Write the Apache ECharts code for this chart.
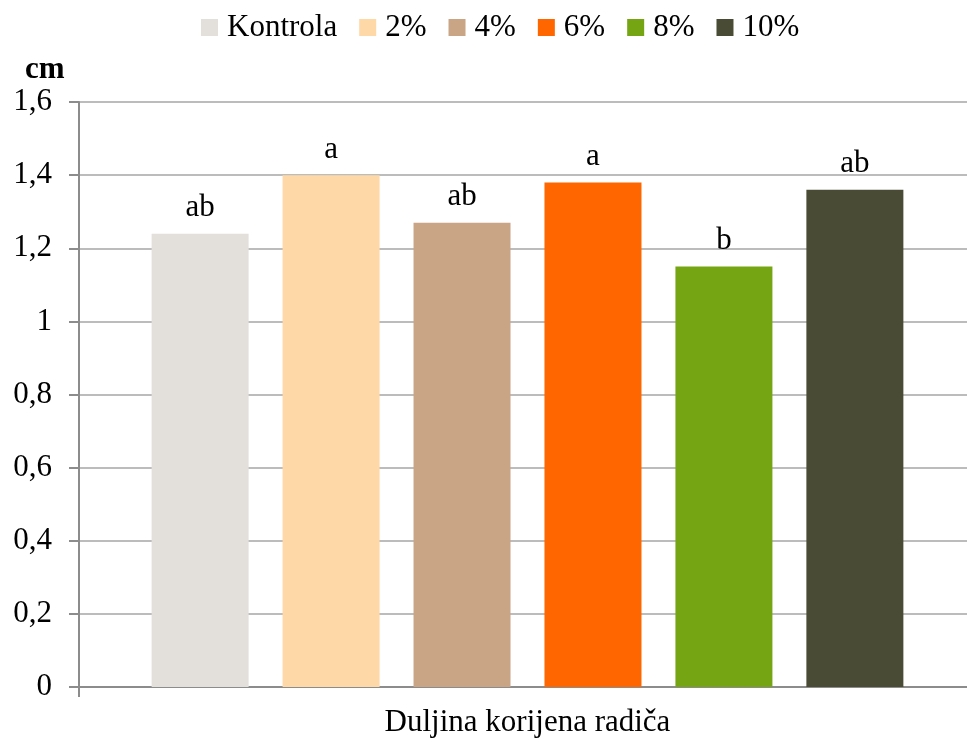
<!DOCTYPE html>
<html>
<head>
<meta charset="utf-8">
<script src="https://cdn.jsdelivr.net/npm/echarts@6/dist/echarts.min.js"></script>
<style>
  html, body { margin: 0; padding: 0; background: #FFFFFF; }
  #chart { width: 967px; height: 742px; }
</style>
</head>
<body>
<div id="chart"></div>
<script>
// data
var categories = ['Duljina korijena radiča'];
var seriesNames = ['Kontrola', '2%', '4%', '6%', '8%', '10%'];
var values = [1.24, 1.40, 1.27, 1.38, 1.15, 1.36];
var letters = ['ab', 'a', 'ab', 'a', 'b', 'ab'];
var colors = ['#E3E0DC', '#FED8A6', '#C9A586', '#FF6600', '#76A514', '#4A4B35'];

var font = 'Liberation Serif';

var chart = echarts.init(document.getElementById('chart'));

var series = seriesNames.map(function (name, i) {
  return {
    name: name,
    type: 'bar',
    barWidth: 97,
    barGap: '35%',
    itemStyle: { color: colors[i] },
    label: {
      show: true,
      position: 'top',
      distance: 10,
      formatter: function () { return letters[i]; },
      color: '#000',
      fontFamily: font,
      fontSize: 31
    },
    data: [values[i]]
  };
});

var option = {
  animation: false,
  backgroundColor: '#FFFFFF',
  title: {
    text: 'cm',
    left: 25,
    top: 54,
    padding: 0,
    textStyle: { fontFamily: font, fontSize: 31, fontWeight: 'bold', color: '#000' }
  },
  legend: {
    left: 196,
    top: 7,
    itemWidth: 17,
    itemHeight: 17,
    itemGap: 22,
    icon: 'rect',
    textStyle: { fontFamily: font, fontSize: 31, color: '#000', padding: [0, 0, 0, 4] },
    data: seriesNames
  },
  // plot area runs a bit past the right edge, as in the original
  grid: { left: 79, right: -9, top: 102, bottom: 55, outerBoundsMode: 'none' },
  xAxis: {
    type: 'category',
    data: categories,
    axisLine: { lineStyle: { color: '#8C8C8C', width: 2 } },
    axisTick: { show: true, length: 10, lineStyle: { color: '#8C8C8C', width: 2 } },
    axisLabel: { margin: 20, color: '#000', fontFamily: font, fontSize: 31 }
  },
  yAxis: {
    type: 'value',
    min: 0,
    max: 1.6,
    interval: 0.2,
    axisLine: { show: true, lineStyle: { color: '#8C8C8C', width: 2 } },
    axisTick: { show: true, length: 10, lineStyle: { color: '#8C8C8C', width: 2 } },
    splitLine: { lineStyle: { color: '#A6A6A6', width: 1.5 } },
    axisLabel: {
      margin: 27,
      color: '#000',
      fontFamily: font,
      fontSize: 31,
      formatter: function (v) { return String(+v.toFixed(1)).replace('.', ','); }
    }
  },
  series: series
};

chart.setOption(option);
</script>
</body>
</html>
